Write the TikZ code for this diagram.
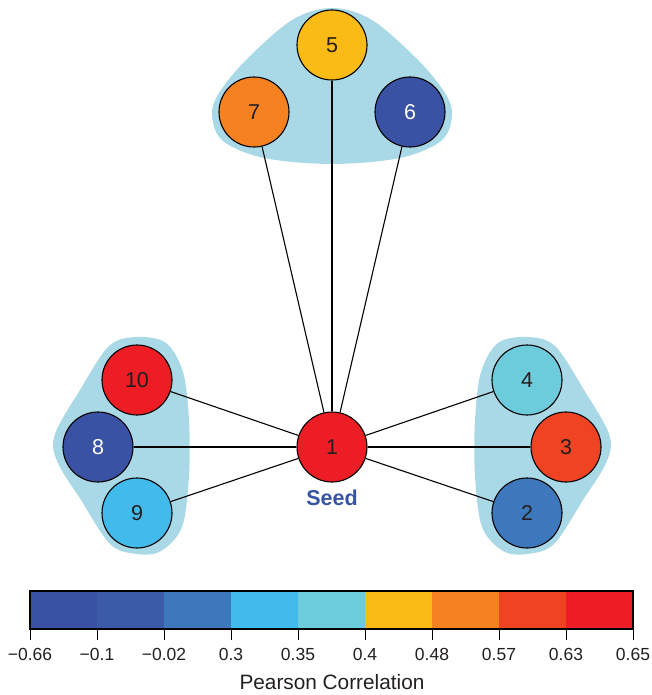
\documentclass[tikz,border=0pt]{standalone}
\usepackage{fontspec}
\setmainfont{Liberation Sans}
\definecolor{blobblue}{RGB}{169,216,230}
\definecolor{cbA}{RGB}{57,82,163}
\definecolor{cbB}{RGB}{59,90,168}
\definecolor{cbC}{RGB}{61,120,188}
\definecolor{cbD}{RGB}{65,187,235}
\definecolor{cbE}{RGB}{108,204,220}
\definecolor{cbF}{RGB}{251,187,22}
\definecolor{cbG}{RGB}{246,129,33}
\definecolor{cbH}{RGB}{239,68,35}
\definecolor{cbI}{RGB}{237,29,37}
\definecolor{numdark}{RGB}{35,31,32}
\definecolor{seedblue}{RGB}{58,84,164}
\begin{document}
\begin{tikzpicture}[x=1pt,y=-1pt,
  vert/.style={circle,draw=black,line width=1.1pt,minimum size=70pt,inner sep=0pt,
    font=\fontsize{21.5}{21.5}\selectfont,text=numdark},
  blob/.style={fill=blobblue},
  link/.style={draw=black,line width=1.1pt},
  ticklab/.style={font=\fontsize{17.5}{17.5}\selectfont,text=numdark,inner sep=0pt}]
\useasboundingbox (0,0) rectangle (652,695);

% shaded groups behind the nodes
\fill[blob] plot[smooth cycle,tension=0.55] coordinates {
  (332,8) (372,20) (418,60) (445,93) (452,116) (441,141) (400,158) (332,164)
  (264,158) (223,141) (212,116) (219,93) (246,60) (292,20)};
\fill[blob] plot[smooth cycle,tension=0.55] coordinates {
  (137,337) (166,343) (183,372) (189,420) (189,476) (182,527) (161,551) (137,554)
  (110,544) (81,500) (57,461) (55,434) (80,390) (109,346)};
\fill[blob] plot[smooth cycle,tension=0.55] coordinates {
  (527,337) (498,343) (481,372) (475,420) (475,476) (482,527) (503,551) (527,554)
  (554,544) (583,500) (607,461) (609,434) (584,390) (555,346)};

% nodes
\node[vert,fill=cbI] (n1) at (332,447) {1};
\node[vert,fill=cbF] (n5) at (332,45) {5};
\node[vert,fill=cbG] (n7) at (254,112) {7};
\node[vert,fill=cbA,text=white] (n6) at (410,112) {6};
\node[vert,fill=cbI] (n10) at (137,380) {10};
\node[vert,fill=cbA,text=white] (n8) at (98,447) {8};
\node[vert,fill=cbD] (n9) at (137,513) {9};
\node[vert,fill=cbE] (n4) at (527,380) {4};
\node[vert,fill=cbH] (n3) at (566,447) {3};
\node[vert,fill=cbC] (n2) at (527,513) {2};

\node[font=\fontsize{21.5}{21.5}\selectfont\bfseries,text=seedblue] (seed) at (332,498) {Seed};

% links from the seed
\foreach \t in {n5,n7,n6,n10,n8,n9,n4,n3,n2}
  \draw[link] (n1) -- (\t);

% colour bar
\foreach \c [count=\i from 0] in {cbA,cbB,cbC,cbD,cbE,cbF,cbG,cbH,cbI}
  \fill[\c] ({30+67*\i},591) rectangle ({97+67*\i},629);
\draw[line width=1.1pt] (30,591) rectangle (633,629);
\foreach \v [count=\i from 0] in {−0.66,−0.1,−0.02,0.3,0.35,0.4,0.48,0.57,0.63,0.65}{
  \draw[line width=0.9pt] ({30+67*\i},629) -- ({30+67*\i},640);
  \node[ticklab] (tick\i) at ({30+67*\i},654) {\v};
}
\node[font=\fontsize{20.8}{20.8}\selectfont,text=numdark] (axislabel) at (332,682) {Pearson Correlation};
\end{tikzpicture}
\end{document}
